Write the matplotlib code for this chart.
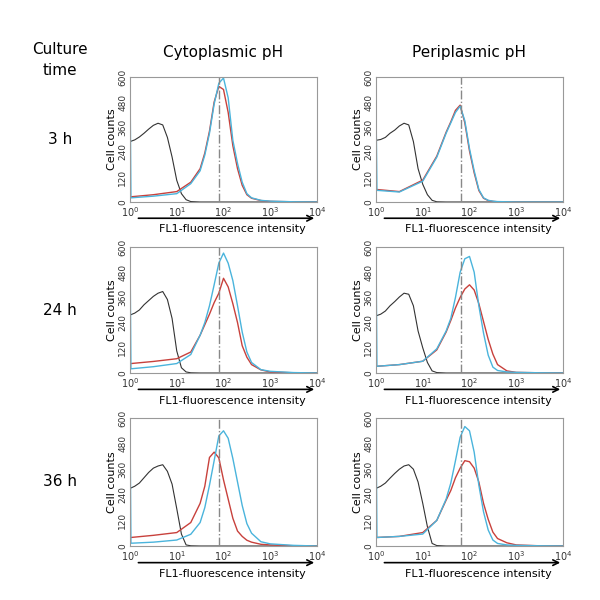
import numpy as np
import matplotlib
matplotlib.use('Agg')
import matplotlib.pyplot as plt
from matplotlib.ticker import FixedLocator, NullLocator

# x positions in decades (log10 of FL1 intensity)
log_ctrl = [0, 0.1, 0.2, 0.3, 0.4, 0.5, 0.6, 0.7, 0.8, 0.9, 1.0, 1.1, 1.2, 1.3, 1.5, 4.0]
log_peak = [0, 0.02, 0.5, 1.0, 1.3, 1.5, 1.6, 1.7, 1.8, 1.9, 2.0, 2.1, 2.2, 2.3, 2.4, 2.5, 2.6, 2.8, 3.0, 3.5, 4.0]

# cytoplasmic pH
cyto_3h_black = [290, 298, 312, 330, 350, 368, 378, 370, 310, 216, 104, 40, 11, 2, 0, 0]
cyto_3h_blue = [600, 20, 28, 40, 88, 150, 225, 330, 470, 570, 595, 500, 296, 185, 95, 40, 20, 8, 4, 1, 0]
cyto_3h_red = [25, 25, 35, 50, 95, 160, 235, 340, 480, 555, 540, 430, 270, 160, 80, 35, 18, 7, 3, 1, 0]
cyto_24h_black = [276, 285, 300, 325, 345, 365, 380, 388, 350, 260, 105, 25, 5, 1, 0, 0]
cyto_24h_blue = [600, 20, 30, 45, 88, 180, 240, 320, 420, 523, 571, 523, 440, 320, 195, 100, 50, 16, 8, 2, 0]
cyto_24h_red = [45, 45, 55, 68, 100, 180, 230, 280, 335, 380, 451, 410, 330, 240, 130, 75, 40, 15, 5, 1, 0]
cyto_36h_black = [270, 280, 295, 320, 345, 365, 375, 381, 350, 290, 175, 56, 5, 1, 0, 0]
cyto_36h_blue = [600, 13, 18, 28, 55, 110, 180, 285, 400, 516, 540, 505, 410, 300, 190, 105, 60, 20, 10, 3, 0]
cyto_36h_red = [40, 40, 50, 63, 110, 200, 280, 415, 440, 413, 310, 220, 130, 70, 45, 27, 18, 8, 5, 1, 0]

# periplasmic pH
peri_3h_black = [296, 300, 310, 330, 345, 365, 378, 370, 290, 160, 85, 35, 8, 1, 0, 0]
peri_3h_blue = [470, 56, 48, 100, 215, 330, 380, 430, 460, 390, 256, 150, 60, 20, 8, 4, 2, 1, 0, 0, 0]
peri_3h_red = [60, 60, 50, 105, 220, 335, 385, 440, 465, 380, 245, 140, 55, 18, 7, 3, 1, 0, 0, 0, 0]
peri_24h_black = [272, 280, 295, 320, 340, 362, 380, 375, 320, 200, 120, 50, 10, 2, 0, 0]
peri_24h_blue = [600, 32, 40, 56, 115, 200, 260, 360, 480, 544, 555, 480, 320, 190, 85, 28, 12, 5, 3, 1, 0]
peri_24h_red = [32, 32, 40, 56, 110, 195, 250, 310, 360, 400, 420, 395, 330, 245, 160, 90, 40, 10, 3, 1, 0]
peri_36h_black = [270, 280, 295, 318, 340, 360, 375, 381, 360, 300, 200, 90, 12, 2, 0, 0]
peri_36h_blue = [600, 40, 45, 56, 120, 220, 295, 400, 510, 560, 540, 440, 285, 160, 75, 28, 12, 5, 3, 1, 0]
peri_36h_red = [40, 40, 45, 63, 120, 215, 260, 320, 365, 400, 395, 365, 300, 200, 125, 65, 35, 15, 5, 1, 0]

marker_log = [1.9, 1.82]   # dash-dot reference line, cyto / peri
columns = ['Cytoplasmic pH', 'Periplasmic pH']
rows = ['3 h', '24 h', '36 h']
y_ticks = [0, 120, 240, 360, 480, 600]

panels = [
    [(cyto_3h_black, cyto_3h_blue, cyto_3h_red), (peri_3h_black, peri_3h_blue, peri_3h_red)],
    [(cyto_24h_black, cyto_24h_blue, cyto_24h_red), (peri_24h_black, peri_24h_blue, peri_24h_red)],
    [(cyto_36h_black, cyto_36h_blue, cyto_36h_red), (peri_36h_black, peri_36h_blue, peri_36h_red)],
]

fig = plt.figure(figsize=(6, 6), dpi=100)

lefts = [130 / 600, 376 / 600]
width = 187 / 600
rows_px = [(77, 202), (247, 373), (418, 546)]

x_ctrl = 10 ** np.array(log_ctrl)
x_peak = 10 ** np.array(log_peak)

for r, (top, bot) in enumerate(rows_px):
    for c in range(2):
        ax = fig.add_axes([lefts[c], 1 - bot / 600, width, (bot - top) / 600])
        black, blue, red = panels[r][c]
        ax.plot(x_ctrl, black, color='#333333', lw=0.8)
        ax.plot(x_peak, red, color='#c8413c', lw=1.0)
        ax.plot(x_peak, blue, color='#4ab4dc', lw=1.0)
        ax.axvline(10 ** marker_log[c], color='#888888', lw=1.0, ls='-.')
        ax.set_xscale('log')
        ax.set_xlim(1, 1e4)
        ax.set_ylim(0, 600)
        ax.xaxis.set_major_locator(FixedLocator([1, 10, 100, 1000, 10000]))
        ax.xaxis.set_minor_locator(NullLocator())
        ax.set_yticks(y_ticks)
        ax.tick_params(length=0, labelsize=7, colors='#333333')
        ax.tick_params(axis='x', pad=2)
        ax.tick_params(axis='y', pad=2, labelsize=6.5)
        for lab in ax.get_yticklabels():
            lab.set_rotation(90)
            lab.set_va('center')
        for s in ax.spines.values():
            s.set_color('#999999')
            s.set_linewidth(0.8)
        ax.set_ylabel('Cell counts', fontsize=8, labelpad=1)
        ax.annotate('', xy=(1.0, -0.13), xytext=(0.03, -0.13), xycoords='axes fraction',
                    arrowprops=dict(arrowstyle='->', lw=1.2, color='black'), annotation_clip=False)
        ax.text(0.55, -0.22, 'FL1-fluorescence intensity', transform=ax.transAxes,
                ha='center', va='center', fontsize=8)

for c, title in enumerate(columns):
    fig.text(lefts[c] + width / 2, 1 - 53 / 600, title, ha='center', va='center', fontsize=11)

fig.text(60 / 600, 1 - 60 / 600, 'Culture\ntime', ha='center', va='center', fontsize=11, linespacing=1.5)
for r, label in enumerate(rows):
    top, bot = rows_px[r]
    fig.text(60 / 600, 1 - (top + bot) / 2 / 600, label, ha='center', va='center', fontsize=11)

fig.savefig('out.png', dpi=100)
